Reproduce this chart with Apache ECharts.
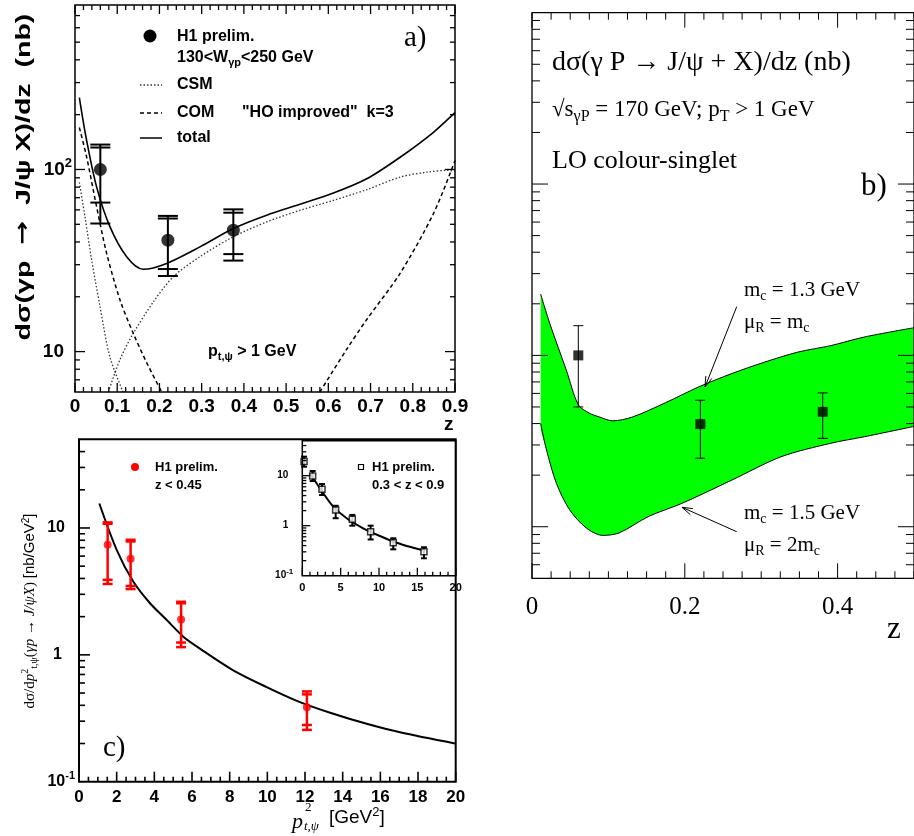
<!DOCTYPE html>
<html>
<head>
<meta charset="utf-8">
<script src="https://cdn.jsdelivr.net/npm/echarts@6/dist/echarts.min.js"></script>
<style>
  html, body { margin: 0; padding: 0; background: #fff; }
  #chart { width: 914px; height: 836px; }
</style>
</head>
<body>
<div id="chart"></div>
<script>
const SANS = 'Liberation Sans, Arial, sans-serif';
const SERIF = 'Liberation Serif, Times New Roman, serif';

// a) dσ/dz with H1 points: inner bars stat, outer bars total
const aPointZ = [0.06, 0.22, 0.375];
const aPointVal = [100, 40.9, 46.4];
const aStatLow = [65.8, 28.4, 34.3];
const aStatHigh = [132, 53.8, 57.9];
const aTotLow = [50.5, 26.0, 31.6];
const aTotHigh = [137, 55.6, 60.4];

const aTotalZ = [0.0103, 0.0276, 0.0513, 0.0829, 0.1224, 0.1618, 0.217, 0.296, 0.375, 0.454, 0.533, 0.612, 0.691, 0.770, 0.849, 0.900];
const aTotalVal = [248, 144, 80, 48.4, 33.2, 28.3, 30.5, 37.6, 47.4, 56.1, 64.4, 74.2, 88.9, 116.7, 160, 205];
const aCsmResZ = [0.0103, 0.0237, 0.0395, 0.0592, 0.0829, 0.114];
const aCsmResVal = [85, 54.8, 31.8, 17.7, 9.3, 6.0];
const aCsmDirZ = [0.079, 0.1066, 0.138, 0.186, 0.233, 0.296, 0.375, 0.454, 0.533, 0.612, 0.691, 0.770, 0.833, 0.881, 0.9];
const aCsmDirVal = [6.0, 9.04, 12.6, 18.8, 25.8, 33.2, 42.7, 51.5, 59.7, 67.7, 77.5, 90.8, 96.6, 98.8, 98];
const aComResZ = [0.0103, 0.0276, 0.0513, 0.075, 0.1066, 0.138, 0.170, 0.2055];
const aComResVal = [170, 117, 62.2, 34.6, 19.2, 12.6, 8.67, 6.0];
const aComDirZ = [0.58, 0.6435, 0.691, 0.770, 0.849, 0.9];
const aComDirVal = [6.0, 10.3, 15, 26.9, 57.3, 112];

// b) LO colour-singlet band
const bPointZ = [0.0606, 0.2204, 0.3805];
const bPointVal = [100, 39.7, 46.8];
const bErrLow = [50, 25.1, 32.8];
const bErrHigh = [149, 54.7, 60.4];
const bUpperZ = [0.0113, 0.0234, 0.045, 0.0606, 0.075, 0.0883, 0.1056, 0.1316, 0.175, 0.218, 0.2614, 0.305, 0.348, 0.391, 0.435, 0.5];
const bUpperVal = [228, 153, 81.8, 51.5, 46, 43.7, 41.5, 43.7, 53, 65.4, 78.3, 91.5, 104.5, 114, 128, 145];
const bLowerZ = [0.0113, 0.019, 0.032, 0.049, 0.071, 0.0926, 0.114, 0.153, 0.1965, 0.2614, 0.326, 0.391, 0.435, 0.5];
const bLowerVal = [40.1, 28, 17.9, 12.6, 9.84, 8.9, 9.2, 11.5, 13.7, 18.7, 25.6, 30.7, 33.5, 38.5];

// c) dσ/dp_t² for z < 0.45
const cPointX = [1.52, 2.74, 5.42, 12.1];
const cPointVal = [7.38, 5.72, 1.90, 0.387];
const cStatLow = [3.9, 3.49, 1.25, 0.28];
const cStatHigh = [10.8, 7.83, 2.55, 0.488];
const cTotLow = [3.62, 3.3, 1.15, 0.256];
const cTotHigh = [11.07, 8.07, 2.62, 0.515];
const cCurveX = [1.08, 2.0, 2.88, 3.77, 4.66, 5.54, 6.42, 8.19, 9.96, 11.73, 13.5, 15.27, 17.04, 19.96];
const cCurveVal = [15.6, 6.73, 3.78, 2.55, 1.88, 1.39, 1.12, 0.755, 0.557, 0.424, 0.343, 0.286, 0.245, 0.2];

// inset: 0.3 < z < 0.9
const insPointX = [0.23, 1.35, 2.57, 4.35, 6.52, 8.91, 11.86, 15.86];
const insPointVal = [19.1, 9.86, 5.35, 2.06, 1.34, 0.76, 0.457, 0.302];
const insErrLow = [15.1, 7.8, 4.1, 1.41, 1.0, 0.53, 0.337, 0.223];
const insErrHigh = [24, 12.4, 6.8, 2.5, 1.64, 1.0, 0.56, 0.37];
const insCurveX = [1.0, 1.43, 2.74, 4.04, 5.78, 7.94, 10.12, 12.3, 14.46, 15.97];
const insCurveVal = [11.2, 8.87, 4.45, 2.4, 1.41, 0.887, 0.622, 0.457, 0.363, 0.316];

// tick marks: [value, length]
const range = (n) => Array.from({ length: n + 1 }, (_, i) => i);
function logTicks(lo, hi, majLen, minLen) {
  const out = [];
  for (let e = Math.floor(Math.log10(lo)); e <= Math.ceil(Math.log10(hi)); e++) {
    for (let m = 1; m < 10; m++) {
      const v = m * Math.pow(10, e);
      if (v > lo * 1.0001 && v < hi * 0.9999) out.push([v, m === 1 ? majLen : minLen]);
    }
  }
  return out;
}
const aXTicks = range(45).map(i => [i * 0.02, i % 5 === 0 ? 9 : 5]);
const aYTicks = logTicks(6, 800, 10, 5);
const bXTicks = range(20).map(i => [i * 0.025, i % 8 === 0 ? 15 : 7]);
const bYTicks = logTicks(5, 10000, 16, 8);
const cXTicks = range(40).map(i => [i * 0.5, i % 4 === 0 ? 10 : 5]);
const cYTicks = logTicks(0.1, 50, 11, 6);
const insXTicks = range(20).map(i => [i, i % 5 === 0 ? 8 : 4]);
const insYTicks = logTicks(0.1, 50, 8, 4);

const pairs = (xs, ys) => xs.map((x, i) => [x, ys[i]]);

function curve(gi, xs, ys, lineStyle, extra) {
  return Object.assign({
    type: 'line', xAxisIndex: gi, yAxisIndex: gi, data: pairs(xs, ys),
    showSymbol: false, symbol: 'none', smooth: 0.3, silent: true, z: 3, lineStyle
  }, extra || {});
}

function errorBars(gi, xs, cols, half, color, lw) {
  return {
    type: 'custom', xAxisIndex: gi, yAxisIndex: gi, silent: true, z: 4,
    data: xs.map((x, i) => [x].concat(cols.map(c => c[i]))),
    renderItem(params, api) {
      const x = api.value(0);
      const pts = cols.map((c, k) => api.coord([x, api.value(k + 1)]));
      const px = pts[0][0];
      const ys = pts.map(p => p[1]);
      const st = { stroke: color, lineWidth: lw };
      const kids = [{ type: 'line', shape: { x1: px, y1: Math.min(...ys), x2: px, y2: Math.max(...ys) }, style: st }];
      ys.forEach(y => kids.push({ type: 'line', shape: { x1: px - half, y1: y, x2: px + half, y2: y }, style: st }));
      return { type: 'group', children: kids };
    }
  };
}

function tickMarks(gi, xRef, yRef, xTicks, yTicks, sides, lw) {
  return {
    type: 'custom', xAxisIndex: gi, yAxisIndex: gi, silent: true, z: 6, clip: false,
    data: [[xRef, yRef]],
    renderItem(params, api) {
      const cs = params.coordSys;
      const kids = [];
      const seg = (x1, y1, x2, y2) => kids.push({ type: 'line', shape: { x1, y1, x2, y2 }, style: { stroke: '#000', lineWidth: lw } });
      xTicks.forEach(([v, len]) => {
        const x = api.coord([v, yRef])[0];
        if (sides.bottom) seg(x, cs.y + cs.height, x, cs.y + cs.height - len);
        if (sides.top) seg(x, cs.y, x, cs.y + len);
      });
      yTicks.forEach(([v, len]) => {
        const y = api.coord([xRef, v])[1];
        if (sides.left) seg(cs.x, y, cs.x + len, y);
        if (sides.right) seg(cs.x + cs.width, y, cs.x + cs.width - len, y);
      });
      return { type: 'group', children: kids };
    }
  };
}

function rich(size, family, weight) {
  const base = { fontSize: size, fontFamily: family, fontWeight: weight, fill: '#000', color: '#000' };
  const small = Math.round(size * 0.68);
  return {
    n: base,
    i: Object.assign({}, base, { fontStyle: 'italic' }),
    s: Object.assign({}, base, { fontSize: small, padding: [Math.round(size * 0.55), 0, 0, 0] }),
    u: Object.assign({}, base, { fontSize: small, padding: [0, 0, Math.round(size * 0.6), 0] }),
    a: Object.assign({}, base, { fontFamily: 'DejaVu Sans' })
  };
}

function T(x, y, text, size, family, weight, extra) {
  const el = {
    type: 'text', x, y, silent: true, z: 20,
    style: {
      text, fontSize: size, fontFamily: family, fontWeight: weight || 'normal', fill: '#000',
      align: 'left', verticalAlign: 'middle', rich: rich(size, family, weight || 'normal')
    }
  };
  if (extra) {
    const { style, ...rest } = extra;
    Object.assign(el, rest);
    if (style) Object.assign(el.style, style);
  }
  return el;
}

function arrow(x1, y1, x2, y2) {
  const a = Math.atan2(y2 - y1, x2 - x1), L = 11, w = 0.3;
  return [
    { type: 'line', silent: true, z: 20, shape: { x1, y1, x2, y2 }, style: { stroke: '#000', lineWidth: 1 } },
    { type: 'polyline', silent: true, z: 20, shape: { points: [[x2 - L * Math.cos(a - w), y2 - L * Math.sin(a - w)], [x2, y2], [x2 - L * Math.cos(a + w), y2 - L * Math.sin(a + w)]] }, style: { stroke: '#000', fill: null, lineWidth: 1 } }
  ];
}

const legLine = (x1, x2, y, style) => ({ type: 'line', silent: true, z: 20, shape: { x1, y1: y, x2, y2: y }, style: Object.assign({ stroke: '#000', lineWidth: 1.5 }, style) });

const boldSans = (size) => ({ fontFamily: SANS, fontWeight: 'bold', fontSize: size, color: '#000' });

// white cover under the lower band edge, nudged left so no green seam shows
const bMaskData = pairs(bLowerZ, bLowerVal).map((p, i) => i === 0 ? [p[0] - 0.002, p[1]] : p);

const option = {
  animation: false,
  backgroundColor: '#fff',
  grid: [
    { left: 75, top: 5, width: 380, height: 387, show: true, borderColor: '#000', borderWidth: 1.5, z: 6 },
    { left: 532, top: 12.7, width: 385, height: 565.6, show: true, borderColor: '#000', borderWidth: 1.3, z: 6 },
    { left: 79, top: 439.3, width: 376.7, height: 342.4, show: true, borderColor: '#000', borderWidth: 2, z: 6 },
    { left: 302.3, top: 440.7, width: 153.4, height: 135, show: true, borderColor: '#000', borderWidth: 1.5, z: 6 }
  ],
  xAxis: [
    { gridIndex: 0, type: 'value', min: 0, max: 0.9, interval: 0.1,
      axisLine: { show: false }, axisTick: { show: false }, splitLine: { show: false },
      axisLabel: Object.assign(boldSans(19), { margin: 5 }) },
    { gridIndex: 1, type: 'value', min: 0, max: 0.5, interval: 0.2,
      axisLine: { show: false }, axisTick: { show: false }, splitLine: { show: false },
      axisLabel: { fontFamily: SERIF, fontSize: 25, color: '#000', margin: 17, showMaxLabel: false } },
    { gridIndex: 2, type: 'value', min: 0, max: 20, interval: 2,
      axisLine: { show: false }, axisTick: { show: false }, splitLine: { show: false },
      axisLabel: Object.assign(boldSans(17), { margin: 7 }) },
    { gridIndex: 3, type: 'value', min: 0, max: 20, interval: 5,
      axisLine: { show: false }, axisTick: { show: false }, splitLine: { show: false },
      axisLabel: Object.assign(boldSans(11), { margin: 7 }) }
  ],
  yAxis: [
    { gridIndex: 0, type: 'log', logBase: 10, min: 6, max: 800,
      axisLine: { show: false }, axisTick: { show: false }, splitLine: { show: false },
      axisLabel: {
        margin: 3, showMinLabel: false, showMaxLabel: false,
        formatter: v => Math.abs(v - 100) < 1 ? '{n|10}{s|2}' : '{n|10}{p|}',
        rich: { n: boldSans(19), s: Object.assign(boldSans(13), { padding: [0, 0, 12, 0] }), p: { width: 8 } }
      } },
    { gridIndex: 1, type: 'log', logBase: 10, min: 5, max: 10000,
      axisLine: { show: false }, axisTick: { show: false }, splitLine: { show: false }, axisLabel: { show: false } },
    { gridIndex: 2, type: 'log', logBase: 10, min: 0.1, max: 50,
      axisLine: { show: false }, axisTick: { show: false }, splitLine: { show: false },
      axisLabel: {
        margin: 4, showMaxLabel: false,
        formatter: v => v > 5 ? '{n|10}{p|}' : (v > 0.5 ? '{n|1}{q|}' : '{n|10}{s|-1}'),
        rich: { n: boldSans(16), s: Object.assign(boldSans(11), { padding: [0, 0, 12, 0] }), p: { width: 10 }, q: { width: 13 } }
      } },
    { gridIndex: 3, type: 'log', logBase: 10, min: 0.1, max: 50,
      axisLine: { show: false }, axisTick: { show: false }, splitLine: { show: false },
      axisLabel: {
        margin: 9, showMaxLabel: false,
        formatter: v => v > 5 ? '{n|10}{p|}' : (v > 0.5 ? '{n|1}{p|}' : '{n|10}{s|-1}'),
        rich: { n: boldSans(10), s: Object.assign(boldSans(8), { padding: [0, 0, 8, 0] }), p: { width: 5 } }
      } }
  ],
  series: [
    // a)
    curve(0, aCsmResZ, aCsmResVal, { color: '#333', width: 1.3, type: [1.5, 2] }),
    curve(0, aCsmDirZ, aCsmDirVal, { color: '#333', width: 1.3, type: [1.5, 2] }),
    curve(0, aComResZ, aComResVal, { color: '#000', width: 1.5, type: [4, 3] }),
    curve(0, aComDirZ, aComDirVal, { color: '#000', width: 1.5, type: [4, 3] }),
    curve(0, aTotalZ, aTotalVal, { color: '#000', width: 1.6 }),
    errorBars(0, aPointZ, [aTotLow, aStatLow, aStatHigh, aTotHigh], 10, '#000', 2),
    { type: 'scatter', xAxisIndex: 0, yAxisIndex: 0, data: pairs(aPointZ, aPointVal), symbol: 'circle', symbolSize: 13, itemStyle: { color: '#000' }, z: 5, silent: true },
    tickMarks(0, 0, 6, aXTicks, aYTicks, { bottom: true, top: true, left: true, right: true }, 1.3),
    // b)
    curve(1, bUpperZ, bUpperVal, { color: '#000', width: 1 }, { z: 2, areaStyle: { color: '#00ff00', opacity: 1, origin: 'start' } }),
    { type: 'line', xAxisIndex: 1, yAxisIndex: 1, data: bMaskData, showSymbol: false, symbol: 'none', smooth: 0.3, silent: true, z: 3,
      lineStyle: { opacity: 0 }, areaStyle: { color: '#ffffff', opacity: 1, origin: 'start' } },
    curve(1, bLowerZ, bLowerVal, { color: '#000', width: 1 }, { z: 3 }),
    errorBars(1, bPointZ, [bErrLow, bErrHigh], 5, '#000', 1),
    { type: 'scatter', xAxisIndex: 1, yAxisIndex: 1, data: pairs(bPointZ, bPointVal), symbol: 'rect', symbolSize: 10, itemStyle: { color: '#000' }, z: 5, silent: true },
    tickMarks(1, 0, 5, bXTicks, bYTicks, { bottom: true, top: true, left: true, right: true }, 1),
    // c)
    curve(2, cCurveX, cCurveVal, { color: '#000', width: 2 }),
    errorBars(2, cPointX, [cTotLow, cStatLow, cStatHigh, cTotHigh], 5, '#ff0000', 2.5),
    { type: 'scatter', xAxisIndex: 2, yAxisIndex: 2, data: pairs(cPointX, cPointVal), symbol: 'circle', symbolSize: 8, itemStyle: { color: '#ff0000' }, z: 5, silent: true },
    tickMarks(2, 0, 0.1, cXTicks, cYTicks, { bottom: true, left: true }, 1.6),
    // inset
    curve(3, insCurveX, insCurveVal, { color: '#000', width: 2 }),
    errorBars(3, insPointX, [insErrLow, insErrHigh], 3, '#000', 2),
    { type: 'scatter', xAxisIndex: 3, yAxisIndex: 3, data: pairs(insPointX, insPointVal), symbol: 'rect', symbolSize: 6, itemStyle: { color: '#fff', borderColor: '#000', borderWidth: 1.5 }, z: 5, silent: true },
    tickMarks(3, 0, 0.1, insXTicks, insYTicks, { bottom: true, left: true }, 1.3)
  ],
  graphic: [
    // a)
    T(24, 177, '{n|dσ(γp}  {a|→}  {n|J/ψ X)/dz}  {n|(nb)}', 21, SANS, 'bold',
      { rotation: Math.PI / 2, scaleX: 1.36, style: { align: 'center' } }),
    { type: 'circle', silent: true, z: 20, shape: { cx: 150, cy: 36, r: 6.5 }, style: { fill: '#000' } },
    T(177, 37, 'H1 prelim.', 16, SANS, 'bold'),
    T(177, 58, '130<W{s|γp}<250 GeV', 16, SANS, 'bold'),
    legLine(140, 162, 85, { stroke: '#333', lineWidth: 1.3, lineDash: [1.5, 2] }),
    T(177, 85, 'CSM', 16, SANS, 'bold'),
    legLine(140, 162, 113, { lineDash: [4, 3] }),
    T(177, 113, 'COM', 16, SANS, 'bold'),
    T(242, 113, '"HO improved"  k=3', 16, SANS, 'bold'),
    legLine(140, 162, 138, {}),
    T(177, 138, 'total', 16, SANS, 'bold'),
    T(404, 38, 'a)', 29, SERIF, 'normal'),
    T(208, 352, 'p{s|t,ψ} > 1 GeV', 16, SANS, 'bold'),
    T(444, 425, 'z', 19, SANS, 'bold'),
    // b)
    T(552, 63, 'dσ(γ P → J/ψ + X)/dz (nb)', 28, SERIF, 'normal'),
    T(552, 110, '√s{s|γP} = 170 GeV; p{s|T} > 1 GeV', 23, SERIF, 'normal'),
    T(552, 161, 'LO colour-singlet', 26, SERIF, 'normal'),
    T(861, 187, 'b)', 31, SERIF, 'normal'),
    T(744, 290, 'm{s|c} = 1.3 GeV', 21, SERIF, 'normal'),
    T(744, 322, 'μ{s|R} = m{s|c}', 21, SERIF, 'normal'),
    T(744, 513, 'm{s|c} = 1.5 GeV', 21, SERIF, 'normal'),
    T(744, 545, 'μ{s|R} = 2m{s|c}', 21, SERIF, 'normal'),
    ...arrow(736.7, 306.7, 705, 387),
    ...arrow(736.7, 531.7, 682, 507.3),
    T(887, 630, 'z', 31, SERIF, 'normal'),
    // c)
    { type: 'circle', silent: true, z: 20, shape: { cx: 135, cy: 467, r: 4 }, style: { fill: '#ff0000' } },
    T(155, 467, 'H1 prelim.', 13, SANS, 'bold'),
    T(155, 485, 'z < 0.45', 13, SANS, 'bold'),
    { type: 'rect', silent: true, z: 20, shape: { x: 358.5, y: 464.5, width: 5, height: 5 }, style: { fill: '#fff', stroke: '#000', lineWidth: 1.2 } },
    T(372, 467, 'H1 prelim.', 13, SANS, 'bold'),
    T(372, 485, '0.3 < z < 0.9', 13, SANS, 'bold'),
    T(103, 748, 'c)', 29, SERIF, 'normal'),
    T(292, 822, 'p', 22, SERIF, 'normal', { style: { fontStyle: 'italic' } }),
    T(305, 808, '2', 13, SERIF, 'normal'),
    T(304, 827, 't,ψ', 13, SERIF, 'normal', { style: { fontStyle: 'italic' } }),
    T(329, 818, '[GeV{u|2}]', 19, SANS, 'normal'),
    T(30, 611, 'dσ/d{i|p}{u|2}{s|t,ψ}({i|γp → J/ψX}) {h|[nb/GeV}{hu|2}{h|]}', 15, SERIF, 'normal', {
      rotation: Math.PI / 2,
      style: {
        align: 'center',
        rich: Object.assign(rich(15, SERIF, 'normal'), {
          h: { fontSize: 15, fontFamily: SANS, fill: '#000' },
          hu: { fontSize: 10, fontFamily: SANS, fill: '#000', padding: [0, 0, 8, 0] }
        })
      }
    })
  ]
};

const chart = echarts.init(document.getElementById('chart'), null, { renderer: 'canvas' });
chart.setOption(option);
</script>
</body>
</html>
